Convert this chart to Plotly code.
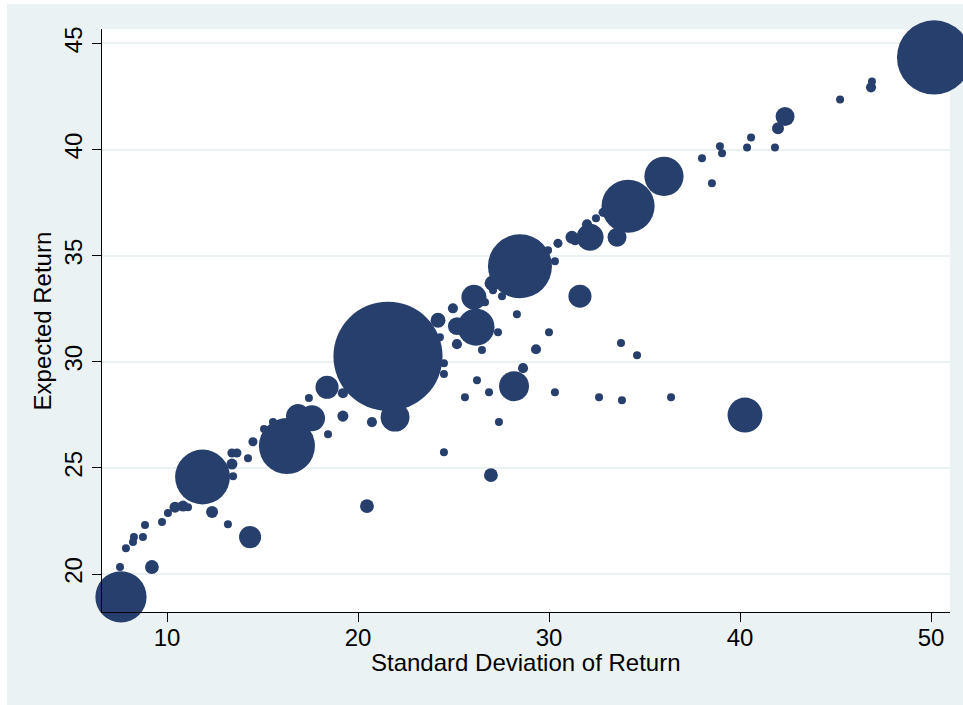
import plotly.graph_objects as go

# Standard deviation of return (x), expected return (y) and weight (marker area)
sd = [7.54, 7.59, 7.85, 8.22, 8.27, 8.74, 8.85, 9.21, 9.74, 10.05,
      10.42, 10.84, 11.10, 11.86, 12.36, 13.19, 13.40, 13.66, 13.40, 13.46,
      14.24, 14.35, 14.50, 15.08, 15.55, 16.28, 16.86, 17.59, 17.43, 18.38,
      18.43, 19.21, 19.21, 20.47, 20.73, 21.57, 21.94, 24.19, 24.29, 24.50,
      24.50, 24.50, 24.97, 25.18, 25.18, 25.60, 26.18, 26.07, 26.23, 26.49,
      26.65, 26.86, 26.96, 27.02, 27.07, 27.33, 27.38, 27.54, 28.17, 28.32,
      28.48, 28.64, 29.32, 29.95, 30.00, 30.31, 30.31, 30.47, 31.20, 31.36,
      31.62, 31.99, 32.15, 32.46, 32.62, 32.83, 33.56, 33.77, 33.82, 34.14,
      34.61, 36.02, 36.39, 38.01, 38.53, 38.95, 39.06, 40.26, 40.37, 40.58,
      41.83, 41.99, 42.36, 45.24, 46.86, 46.91, 50.16]

exp_ret = [20.33, 18.92, 21.22, 21.51, 21.74, 21.74, 22.31, 20.33, 22.45, 22.87,
           23.15, 23.20, 23.15, 24.57, 22.92, 22.35, 25.70, 25.70, 25.18, 24.61,
           25.46, 21.74, 26.23, 26.83, 27.16, 26.03, 27.44, 27.34, 28.29, 28.80,
           26.59, 27.44, 28.52, 23.20, 27.16, 30.26, 27.39, 31.96, 31.16, 29.93,
           29.42, 25.74, 32.52, 30.83, 31.68, 28.33, 31.63, 33.04, 29.13, 30.55,
           32.81, 28.57, 24.66, 33.70, 33.37, 31.39, 27.16, 33.09, 28.85, 32.24,
           34.50, 29.70, 30.59, 35.25, 31.39, 34.74, 28.57, 35.58, 35.87, 35.68,
           33.09, 36.48, 35.87, 36.76, 28.33, 37.04, 35.87, 30.88, 28.19, 37.33,
           30.31, 38.74, 28.33, 39.59, 38.41, 40.15, 39.82, 27.49, 40.10, 40.57,
           40.10, 41.00, 41.56, 42.36, 42.93, 43.21, 44.34]

weight = [1, 41, 1, 1, 1, 1, 1, 3, 1, 1,
          1.9, 1.9, 1, 47, 2.25, 1, 1.3, 1.3, 1.9, 1,
          1, 7.6, 1.3, 1, 1, 49, 9, 10.6, 1, 8.3,
          1, 1.9, 1.6, 3, 1.6, 186, 13, 3.5, 1, 1,
          1, 1, 1.6, 1.6, 5, 1, 21.4, 9.8, 1, 1,
          1, 1, 3, 3.5, 1, 1, 1, 1, 14, 1,
          64, 1.6, 1.6, 1, 1, 1, 1, 1.3, 2.6, 1,
          8.3, 1.6, 11.4, 1, 1, 1.3, 5.6, 1, 1, 44,
          1, 24, 1, 1, 1, 1, 1, 19, 1, 1,
          1, 2.25, 5.6, 1, 1.6, 1, 86]

x_ticks = [10, 20, 30, 40, 50]
y_ticks = [20, 25, 30, 35, 40, 45]
x_title = "Standard Deviation of Return"
y_title = "Expected Return"

NAVY = "#273f6d"
BG = "#eaf2f3"
FONT = "Liberation Sans, Arial, Helvetica, sans-serif"

fig = go.Figure()
fig.add_trace(go.Scatter(
    x=sd, y=exp_ret, mode="markers",
    marker=dict(size=weight, sizemode="area", sizeref=1 / 32,
                color=NAVY, line=dict(width=0), opacity=1),
    cliponaxis=False, hoverinfo="x+y",
))

# white page strips around the light graph region
fig.add_shape(type="rect", xref="paper", yref="paper",
              x0=-0.3, x1=-0.1120, y0=-0.5, y1=1.5,
              fillcolor="white", line_width=0, layer="below")
fig.add_shape(type="rect", xref="paper", yref="paper",
              x0=-0.3, x1=1.3, y0=1.0429, y1=1.5,
              fillcolor="white", line_width=0, layer="below")

# axis titles
fig.add_annotation(text=x_title, xref="paper", yref="paper",
                   x=0.5, y=-0.0858, xanchor="center", yanchor="middle",
                   showarrow=False, font=dict(size=24, family=FONT, color="black"))
fig.add_annotation(text=y_title, xref="paper", yref="paper",
                   x=-0.0696, y=0.5, xanchor="center", yanchor="middle",
                   textangle=-90, showarrow=False,
                   font=dict(size=24, family=FONT, color="black"))

fig.update_layout(
    width=963, height=705,
    margin=dict(l=102, r=13, t=29, b=93, pad=0),
    paper_bgcolor=BG, plot_bgcolor="white",
    showlegend=False,
    font=dict(family=FONT, color="black", size=22),
)
fig.update_xaxes(
    range=[6.597, 50.995], tickvals=x_ticks,
    showgrid=False, zeroline=False,
    showline=True, linecolor="black", linewidth=1.2, mirror=False,
    ticks="outside", ticklen=9, tickwidth=1.2, tickcolor="black",
    tickfont=dict(size=24, family=FONT), ticklabelstandoff=-5,
)
fig.update_yaxes(
    range=[18.211, 45.68], tickvals=y_ticks, tickangle=-90,
    showgrid=True, gridcolor=BG, gridwidth=1.5, zeroline=False,
    showline=True, linecolor="black", linewidth=1.2, mirror=False,
    ticks="outside", ticklen=9, tickwidth=1.2, tickcolor="black",
    tickfont=dict(size=24, family=FONT),
)

fig.write_html("out.html")
